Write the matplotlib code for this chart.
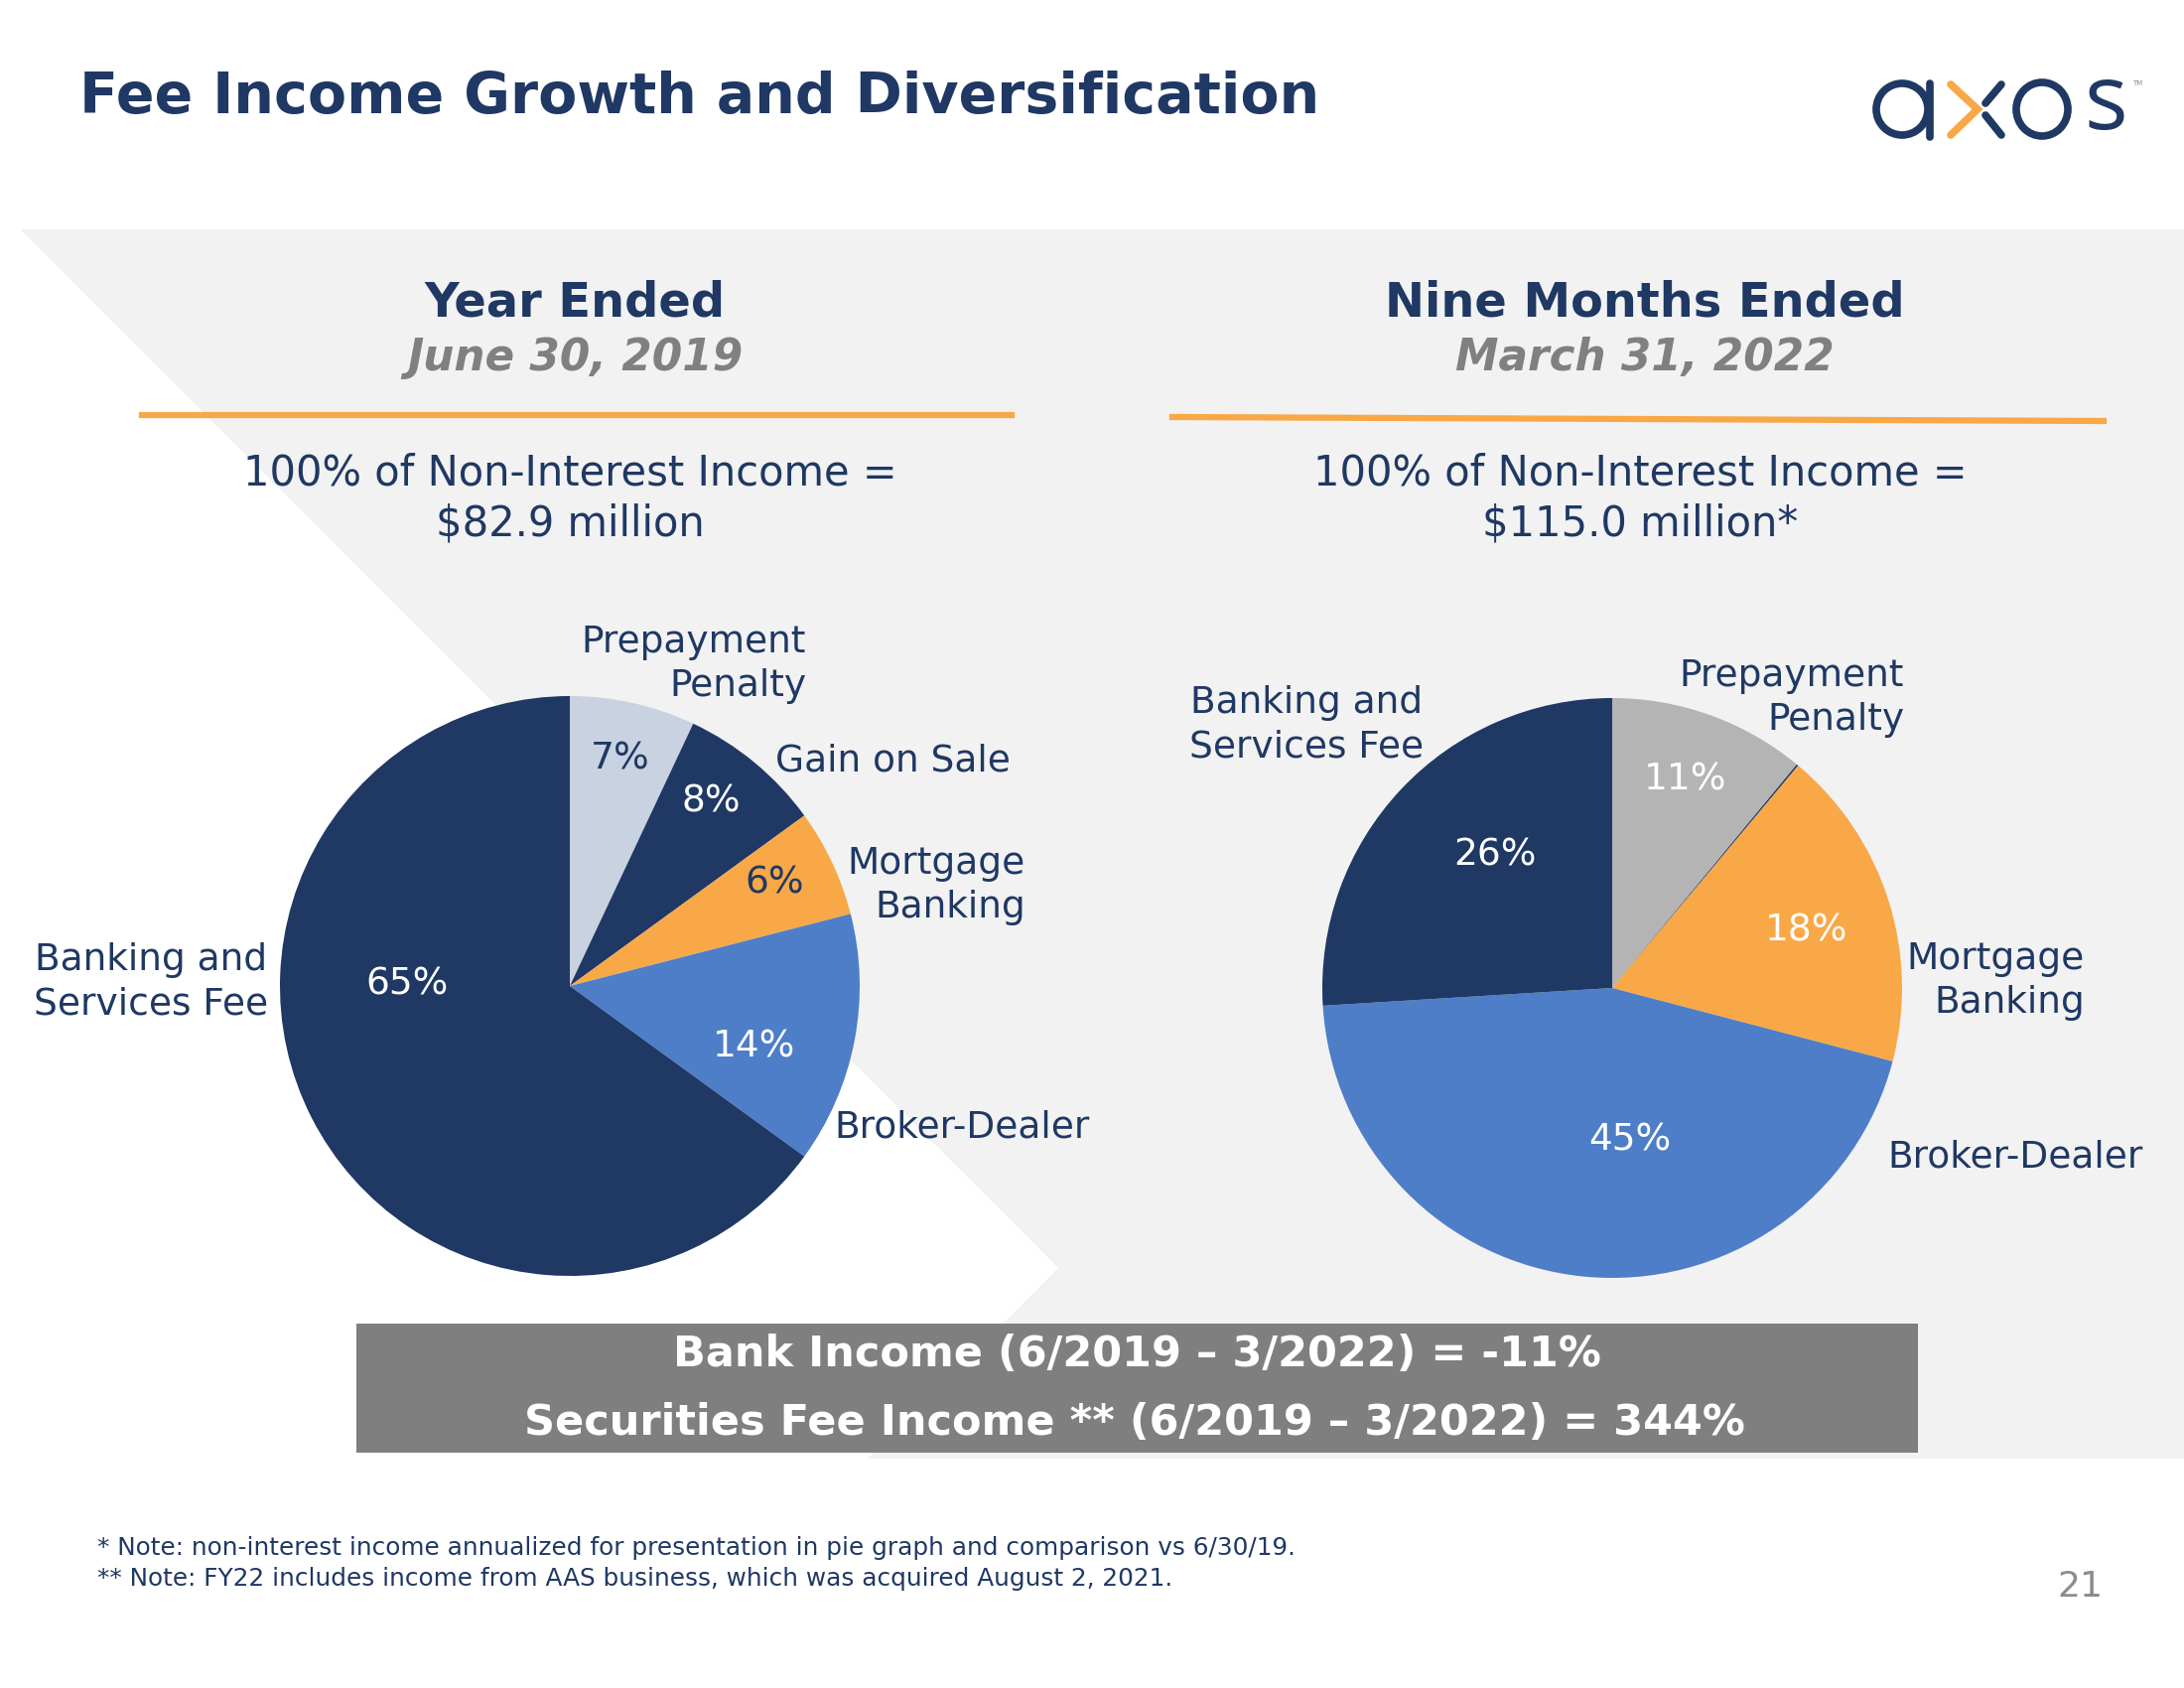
import matplotlib
matplotlib.use("Agg")
import matplotlib.pyplot as plt
from matplotlib.patches import Polygon, Rectangle, Ellipse
import numpy as np

plt.rcParams["font.family"] = ["DejaVu Sans"]

# data
categories = ["Prepayment Penalty", "Gain on Sale", "Mortgage Banking",
              "Broker-Dealer", "Banking and Services Fee"]
fy2019_pct = [7, 8, 6, 14, 65]
fy2022_pct = [11, 0.1, 18, 45, 26]
fy2019_total = 82.9
fy2022_total = 115.0
bank_income_change = -11
securities_fee_change = 344

navy = "#1f3864"
orange = "#f9a847"
blue = "#4e7ec8"
colors_2019 = ["#c8d2e0", navy, orange, blue, navy]
colors_2022 = ["#b4b4b4", navy, orange, blue, navy]

fig = plt.figure(figsize=(22, 17), dpi=100)
fig.patch.set_facecolor("white")

# background axes in pixel coordinates
bg = fig.add_axes([0, 0, 1, 1])
bg.set_xlim(0, 2200)
bg.set_ylim(1700, 0)
bg.axis("off")

bg.add_patch(Rectangle((0, 231), 2200, 1238, color="#f2f2f2", lw=0, zorder=0))
bg.add_patch(Polygon([(0, 231), (20, 231), (1066, 1277), (874, 1469), (0, 1469)],
                     closed=True, color="white", lw=0, zorder=0.5))

bg.text(80, 98, "Fee Income Growth and Diversification", fontsize=41,
        fontweight="bold", color=navy, va="center", ha="left")

# logo
lw_logo = 5.5
bg.add_patch(Ellipse((1916, 110), 52, 52, fill=False, ec=navy, lw=lw_logo))
bg.plot([1944, 1944], [84, 138], color=navy, lw=lw_logo, solid_capstyle="round")
bg.plot([1965, 1992, 1965], [85, 110, 136], color=orange, lw=lw_logo,
        solid_capstyle="round", solid_joinstyle="miter")
bg.plot([2016, 2000], [85, 104], color=navy, lw=lw_logo, solid_capstyle="round")
bg.plot([2000, 2016], [116, 136], color=navy, lw=lw_logo, solid_capstyle="round")
bg.add_patch(Ellipse((2057, 110), 52, 54, fill=False, ec=navy, lw=lw_logo))
bg.text(2121, 106, "s", fontsize=66, color=navy, family="Open Sans",
        ha="center", va="center")
bg.text(2148, 84, "TM", fontsize=5, color="#888888", ha="left", va="center")

# headers
headers = [(579, "Year Ended", "June 30, 2019",
            "100% of Non-Interest Income =\n${:.1f} million".format(fy2019_total)),
           (1657, "Nine Months Ended", "March 31, 2022",
            "100% of Non-Interest Income =\n${:.1f} million*".format(fy2022_total))]
for x, h1, h2, h3 in headers:
    bg.text(x, 305, h1, fontsize=34.5, fontweight="bold", color=navy,
            ha="center", va="center")
    bg.text(x, 360, h2, fontsize=31.5, fontweight="bold", style="italic",
            color="#808080", ha="center", va="center")
    bg.text(x - 5, 502, h3, fontsize=30, color=navy, ha="center",
            va="center", linespacing=1.25)
bg.plot([143, 1019], [418, 418], color=orange, lw=4.5)
bg.plot([1181, 2119], [420, 424], color=orange, lw=4.5)


def draw_pie(rect, values, colors, pct_pos, pct_colors):
    ax = fig.add_axes(rect)
    wedges, _ = ax.pie(values, colors=colors, startangle=90, counterclock=False,
                       radius=1, wedgeprops=dict(linewidth=0))
    ax.set_xlim(-1, 1)
    ax.set_ylim(-1, 1)
    ax.set_aspect("equal")
    ax.axis("off")
    for v, pos, c in zip(values, pct_pos, pct_colors):
        if pos is None:
            continue
        r, ang = pos
        ax.text(r * np.cos(np.radians(ang)), r * np.sin(np.radians(ang)),
                "{}%".format(round(v)), fontsize=27, color=c, ha="center", va="center")
    return ax


draw_pie([282 / 2200, 1 - 1285 / 1700, 584 / 2200, 584 / 1700], fy2019_pct,
         colors_2019,
         [(0.80, 77.5), (0.80, 52.6), (0.79, 26.7), (0.67, -18.3), (0.56, 179.5)],
         [navy, "white", navy, "white", "white"])
draw_pie([1332 / 2200, 1 - 1287 / 1700, 584 / 2200, 584 / 1700], fy2022_pct,
         colors_2022,
         [(0.76, 70.6), None, (0.70, 16.4), (0.53, -83.5), (0.61, 131.3)],
         ["white", None, "white", "white", "white"])

lab = dict(fontsize=27, color=navy, va="center", zorder=5, linespacing=1.3)
# left pie labels
bg.text(812, 669, "Prepayment\nPenalty", ha="right", multialignment="right", **lab)
bg.text(781, 766, "Gain on Sale", ha="left", **lab)
bg.text(1033, 892, "Mortgage\nBanking", ha="right", multialignment="right", **lab)
bg.text(840, 1135, "Broker-Dealer", ha="left", **lab)
bg.text(152, 989, "Banking and\nServices Fee", ha="center", multialignment="center", **lab)
# right pie labels
bg.text(1918, 703, "Prepayment\nPenalty", ha="right", multialignment="right", **lab)
bg.text(1316, 730, "Banking and\nServices Fee", ha="center", multialignment="center", **lab)
bg.text(2100, 988, "Mortgage\nBanking", ha="right", multialignment="right", **lab)
bg.text(1901, 1165, "Broker-Dealer", ha="left", **lab)

# summary box
bg.add_patch(Rectangle((359, 1333), 1573, 130, color="#7f7f7f", lw=0, zorder=3))
bg.text(1145, 1364, "Bank Income (6/2019 \u2013 3/2022) = {}%".format(bank_income_change),
        fontsize=31, fontweight="bold", color="white", ha="center", va="center", zorder=4)
bg.text(1143, 1433,
        "Securities Fee Income ** (6/2019 \u2013 3/2022) = {}%".format(securities_fee_change),
        fontsize=31, fontweight="bold", color="white", ha="center", va="center", zorder=4)

# footnotes
bg.text(98, 1559, "* Note: non-interest income annualized for presentation in pie graph and comparison vs 6/30/19.",
        fontsize=17.8, color=navy, ha="left", va="center")
bg.text(98, 1590, "** Note: FY22 includes income from AAS business, which was acquired August 2, 2021.",
        fontsize=17.8, color=navy, ha="left", va="center")
bg.text(2118, 1598, "21", fontsize=26, color="#8c8c8c", ha="right", va="center")

plt.savefig("out.png", dpi=100)
plt.close()
